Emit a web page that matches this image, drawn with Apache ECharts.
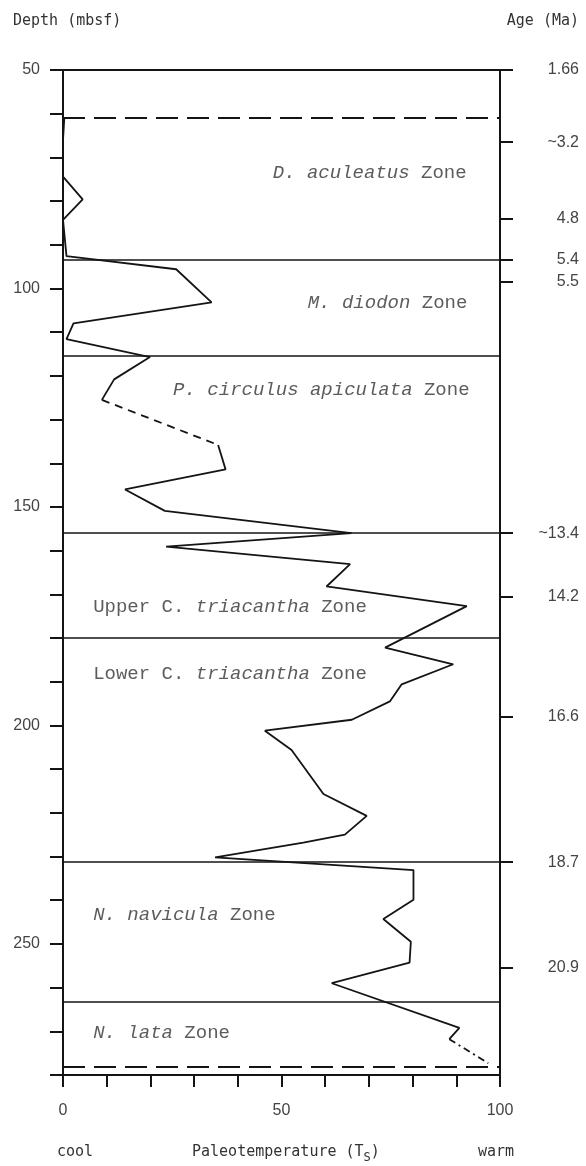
<!DOCTYPE html>
<html>
<head>
<meta charset="utf-8">
<script src="https://cdn.jsdelivr.net/npm/echarts@6/dist/echarts.min.js"></script>
<style>
html,body{margin:0;padding:0;background:#fff;}
#chart{width:586px;height:1166px;}
</style>
</head>
<body>
<div id="chart"></div>
<script>
// ---- data ----
// upper solid segment of the paleotemperature curve
const tempA  = [0.3, 0, 0, 4.5, 0, 0.8, 25.9, 34.0, 2.4, 0.8, 19.9, 11.7, 8.9];
const depthA = [61, 66, 74.4, 79.6, 84.3, 92.6, 95.6, 103.2, 108, 111.6, 115.7, 120.8, 125.5];
// dashed gap
const tempB  = [8.9, 35.5];
const depthB = [125.5, 135.8];
// main solid segment
const tempC  = [35.5, 37.2, 14.2, 23.3, 66, 23.6, 65.7, 60.3, 92.4, 73.7, 89.3, 77.5, 74.8, 66.1, 46.2, 52.3, 59.6, 69.5, 64.5, 55, 34.8, 80.2, 80.2, 73.3, 79.6, 79.3, 61.5, 90.7, 88.4];
const depthC = [135.8, 141.4, 146, 150.9, 156, 159.1, 163.1, 168.2, 172.7, 182.2, 186, 190.6, 194.5, 198.7, 201.2, 205.6, 215.7, 220.7, 225, 226.8, 230.2, 233.1, 239.9, 244.3, 249.5, 254.3, 259, 269.2, 271.8];
// dash-dot end
const tempD  = [88.4, 97.3];
const depthD = [271.8, 277.3];

// zone boundaries (depth, mbsf)
const solidBounds  = [93.5, 115.3, 156, 180, 231.3, 263.3];
const dashedBounds = [61, 278];

// age tick labels on right axis
const ageDepths = [50, 66.5, 84, 93.5, 98.5, 156, 170.5, 198, 231.3, 255.5];
const ageLabels = ['1.66', '~3.2', '4.8', '5.4', '5.5', '~13.4', '14.2', '16.6', '18.7', '20.9'];

// zone labels: rich text, anchor temp value, anchor depth
const zoneText  = ['{i|D. aculeatus} Zone', '{i|M. diodon} Zone', '{i|P. circulus apiculata} Zone',
                   'Upper C. {i|triacantha} Zone', 'Lower C. {i|triacantha} Zone',
                   '{i|N. navicula} Zone', '{i|N. lata} Zone'];
const zoneTemp  = [48, 56, 25.2, 6.9, 6.9, 6.9, 6.9];
const zoneDepth = [73.5, 103.3, 123.2, 173, 188.3, 243.4, 270.4];

const depthMin = 50, depthMax = 280;
const xTicks = [0, 50, 100];

// ---- build ----
const zip = (a, b) => a.map((v, i) => [v, b[i]]);
const lineCol = '#141414';
const textCol = '#333';
const monoFont = '"DejaVu Sans Mono", monospace';
const zoneFont = '"Liberation Mono", "Courier New", monospace';
const numFont = '"Liberation Sans", Arial, sans-serif';

const chart = echarts.init(document.getElementById('chart'), null, {renderer: 'canvas'});

const option = {
  animation: false,
  backgroundColor: '#fff',
  grid: {left: 63, right: 86, top: 70, bottom: 91, containLabel: false},
  xAxis: [{
    type: 'value', position: 'bottom', min: 0, max: 100, interval: 10,
    axisLine: {show: true, onZero: false, lineStyle: {color: lineCol, width: 2}},
    axisTick: {show: true, length: 12, lineStyle: {color: lineCol, width: 2}},
    axisLabel: {show: true, margin: 28, color: '#444', fontFamily: numFont, fontSize: 16,
      formatter: v => xTicks.indexOf(v) >= 0 ? String(v) : ''},
    splitLine: {show: false}
  }, {
    type: 'value', position: 'top', min: 0, max: 100,
    axisLine: {show: true, onZero: false, lineStyle: {color: lineCol, width: 2}},
    axisTick: {show: false}, axisLabel: {show: false}, splitLine: {show: false}
  }],
  yAxis: [{
    type: 'value', position: 'left', inverse: true, min: depthMin, max: depthMax, interval: 10,
    axisLine: {show: true, onZero: false, lineStyle: {color: lineCol, width: 2}},
    axisTick: {show: true, length: 13, lineStyle: {color: lineCol, width: 2}},
    axisLabel: {show: true, margin: 23, color: '#444', fontFamily: numFont, fontSize: 16,
      formatter: v => (v % 50 === 0 && v < 280) ? String(v) : ''},
    splitLine: {show: false}
  }, {
    type: 'value', position: 'right', inverse: true, min: depthMin, max: depthMax,
    axisLine: {show: true, onZero: false, lineStyle: {color: lineCol, width: 2}},
    axisTick: {show: true, length: 13, customValues: ageDepths, lineStyle: {color: lineCol, width: 2}},
    axisLabel: {show: true, customValues: ageDepths, align: 'right', margin: 79,
      color: '#444', fontFamily: numFont, fontSize: 16,
      formatter: v => { const i = ageDepths.indexOf(v); return i >= 0 ? ageLabels[i] : ''; }},
    splitLine: {show: false}
  }],
  series: [
    {type: 'line', xAxisIndex: 0, yAxisIndex: 0, data: zip(tempA, depthA), symbol: 'none',
     lineStyle: {color: lineCol, width: 1.8}, z: 5,
     markLine: {silent: true, symbol: 'none', label: {show: false},
       lineStyle: {color: lineCol, width: 1.6, type: 'solid'},
       data: solidBounds.map(d => ({yAxis: d}))}},
    {type: 'line', xAxisIndex: 0, yAxisIndex: 0, data: zip(tempB, depthB), symbol: 'none',
     lineStyle: {color: lineCol, width: 1.8, type: [8, 6]}, z: 5,
     markLine: {silent: true, symbol: 'none', label: {show: false},
       lineStyle: {color: lineCol, width: 2, type: [22, 9]},
       data: dashedBounds.map(d => ({yAxis: d}))}},
    {type: 'line', xAxisIndex: 0, yAxisIndex: 0, data: zip(tempC, depthC), symbol: 'none',
     lineStyle: {color: lineCol, width: 1.8}, z: 5},
    {type: 'line', xAxisIndex: 0, yAxisIndex: 0, data: zip(tempD, depthD), symbol: 'none',
     lineStyle: {color: lineCol, width: 1.8, type: [7, 4, 2, 4]}, z: 5},
    {type: 'scatter', xAxisIndex: 0, yAxisIndex: 0, symbolSize: 0, silent: true,
     data: zoneTemp.map((t, i) => ({value: [t, zoneDepth[i]], name: zoneText[i]})),
     label: {show: true, position: 'right', distance: 0, formatter: p => p.name,
       color: textCol, fontFamily: zoneFont, fontSize: 19,
       rich: {i: {fontStyle: 'italic', fontFamily: zoneFont, fontSize: 19, color: textCol}}}}
  ],
  graphic: [
    {type: 'text', left: 13, top: 14, style: {text: 'Depth (mbsf)', fill: textCol, font: '15px ' + monoFont}},
    {type: 'text', right: 7, top: 14, style: {text: 'Age (Ma)', fill: textCol, font: '15px ' + monoFont}},
    {type: 'text', left: 57, top: 1145, style: {text: 'cool', fill: textCol, font: '15px ' + monoFont}},
    {type: 'text', left: 192, top: 1145, style: {
      text: '{a|Paleotemperature (T}{s|S}{a|)}',
      fill: textCol,
      rich: {a: {fontSize: 15, fontFamily: monoFont, fill: textCol, verticalAlign: 'top', lineHeight: 18},
             s: {fontSize: 12, fontFamily: monoFont, fill: textCol, verticalAlign: 'top', padding: [7, 0, 0, 0], lineHeight: 18}}}},
    {type: 'text', left: 478, top: 1145, style: {text: 'warm', fill: textCol, font: '15px ' + monoFont}}
  ]
};
chart.setOption(option);
</script>
</body>
</html>
